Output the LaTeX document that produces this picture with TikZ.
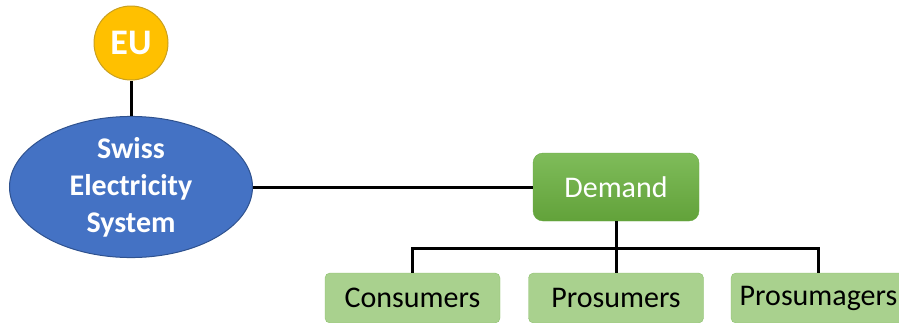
\documentclass[tikz,border=0pt]{standalone}
\usepackage{fontspec}
\setmainfont{Carlito}
\usetikzlibrary{shapes.geometric}
\definecolor{euyellow}{HTML}{FFC000}
\definecolor{euborder}{HTML}{C9A020}
\definecolor{chblue}{HTML}{4472C4}
\definecolor{chborder}{HTML}{2F528F}
\definecolor{demtop}{HTML}{7FBC5A}
\definecolor{dembot}{HTML}{62A23A}
\definecolor{demborder}{HTML}{6AAA45}
\definecolor{subfill}{HTML}{A9D18E}
\definecolor{subborder}{HTML}{8CC06C}
\tikzset{
  big/.style={font=\fontsize{30}{37}\selectfont},
  bigbold/.style={font=\fontsize{30}{37}\selectfont\bfseries},
  subbox/.style={rectangle,rounded corners=5pt,draw=subborder,fill=subfill,
    minimum width=175pt,minimum height=50pt,inner sep=0pt,big},
  link/.style={line width=3pt,black}
}
\begin{document}
\begin{tikzpicture}[x=1pt,y=-1pt]
      \useasboundingbox (0,0) rectangle (899,322);

      \node[circle,draw=euborder,line width=1pt,fill=euyellow,minimum size=74pt,inner sep=0pt,
        text=white,font=\fontsize{36}{40}\selectfont\bfseries] (eu) at (131,43) {EU};
      \node[ellipse,draw=chborder,line width=1pt,fill=chblue,minimum width=243pt,minimum height=121pt,
        inner sep=0pt,text=white,align=center,bigbold] (ch) at (131,187)
        {Swiss\\Electricity\\System};
      \node[rectangle,rounded corners=10pt,draw=demborder,top color=demtop,bottom color=dembot,
        minimum width=166pt,minimum height=68pt,text=white,big] (dem) at (616,187) {Demand};

      \begin{scope}[every node/.style={subbox}]
        \node (con) at (412.5,298) {Consumers};
        \node (pro) at (616,298) {Prosumers};
        \node (pmg) at (818.5,298) {Prosumagers};
      \end{scope}

      \coordinate (bus) at (616,248);

      \begin{scope}[every path/.style={link}]
        \draw (eu) -- (ch);
        \draw (ch) -- (dem);
        \draw (dem) -- (pro);
        \draw (con.north) |- (bus) -| (pmg.north);
      \end{scope}

    \end{tikzpicture}
\end{document}
